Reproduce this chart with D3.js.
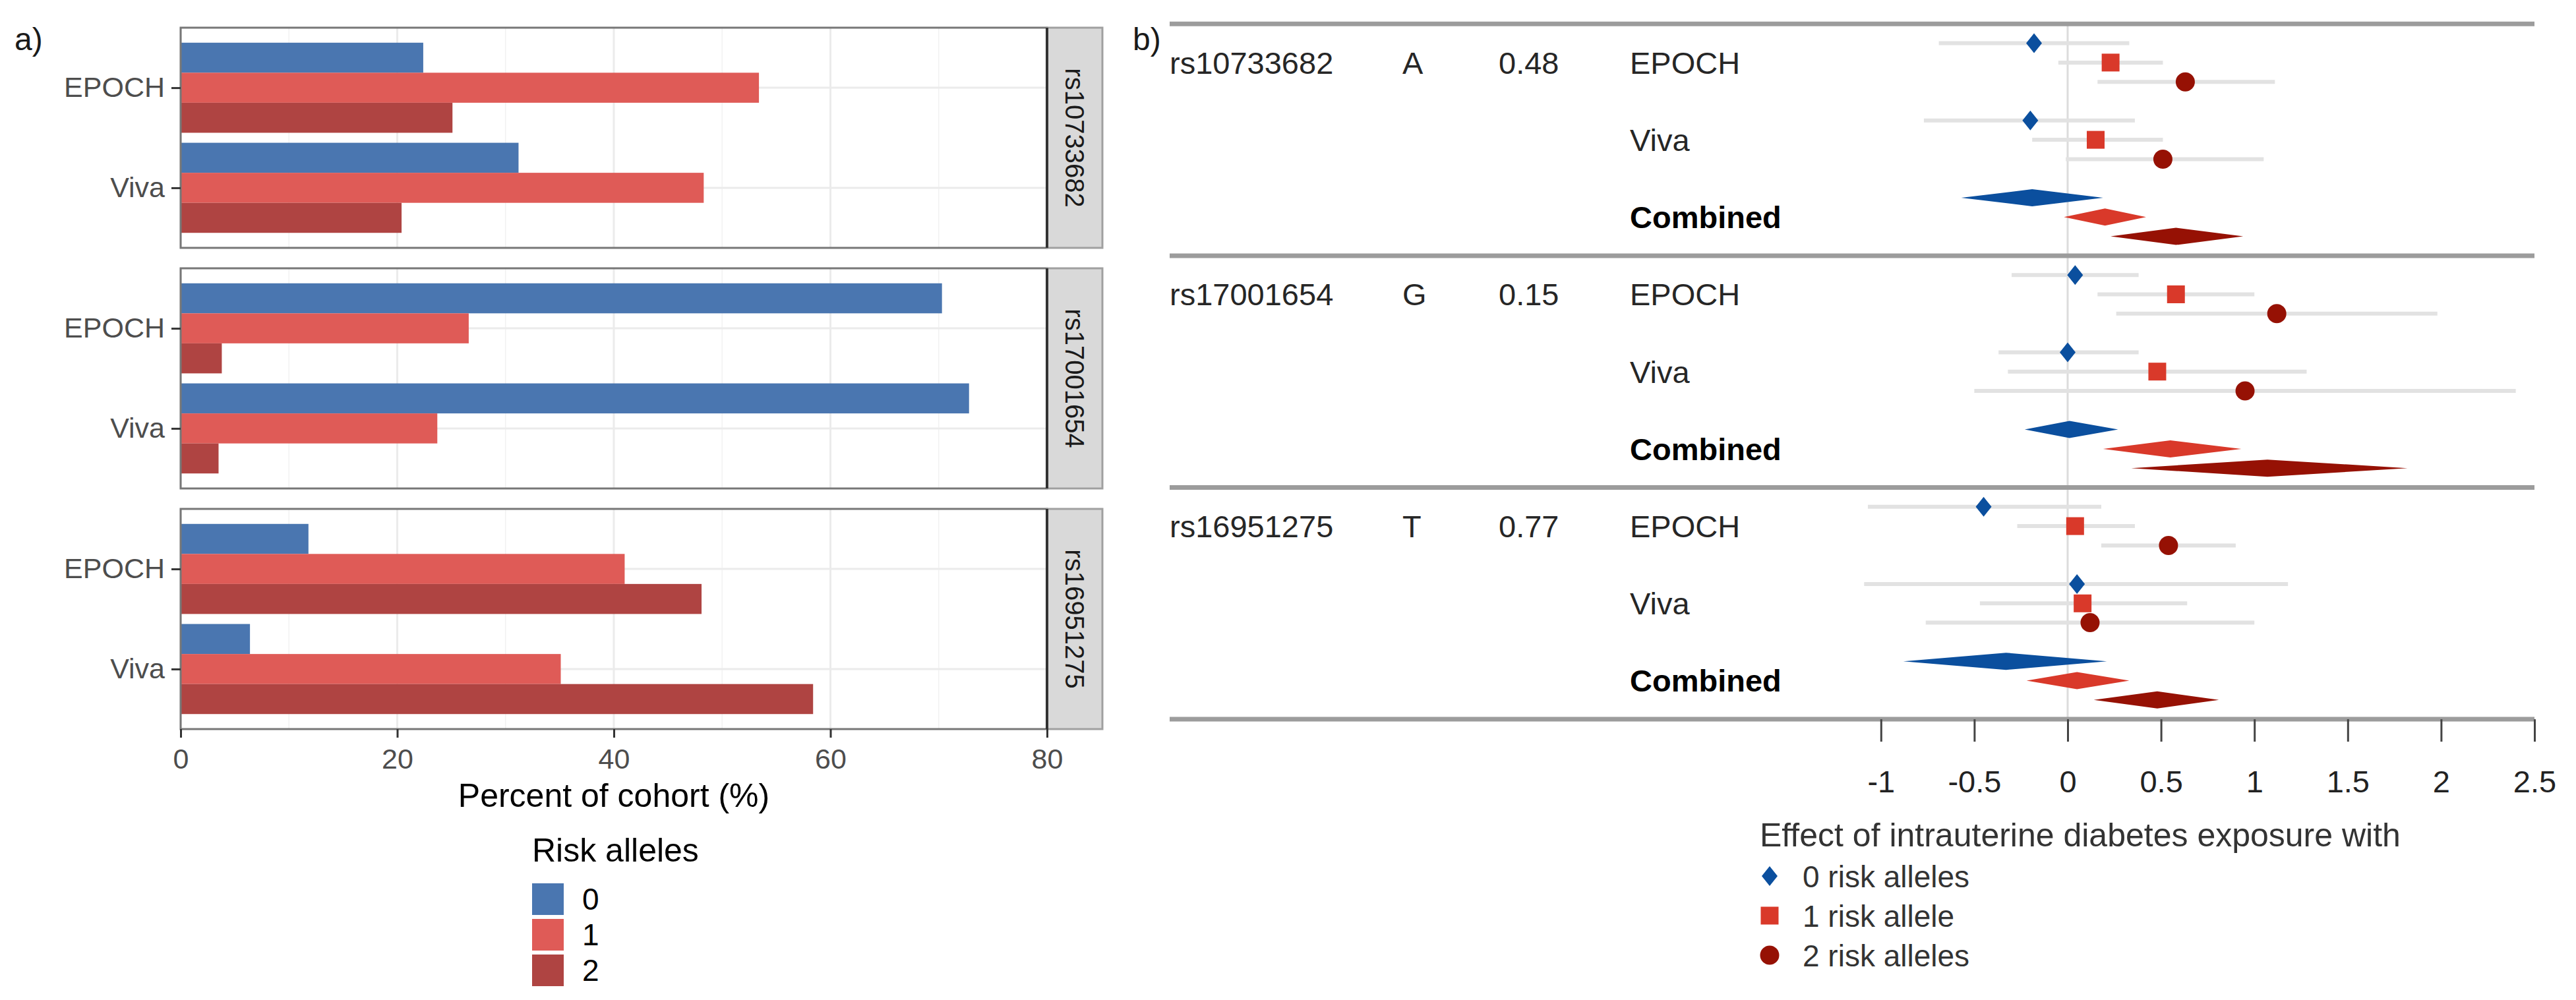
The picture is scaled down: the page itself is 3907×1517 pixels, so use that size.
<!DOCTYPE html>
<html>
<head>
<meta charset="utf-8">
<script src="https://cdn.jsdelivr.net/npm/d3@7"></script>
<style>
    body { margin: 0; background: #fff; }
    text { font-family: "Liberation Sans", Arial, Helvetica, sans-serif; }
</style>
</head>
<body>
<svg id="chart" width="3907" height="1517"></svg>
<script>

// ---- data: panel a (percent of cohort by number of risk alleles) ----
var snps = ['rs10733682', 'rs17001654', 'rs16951275'];
var cohorts = ['EPOCH', 'Viva'];
var alleleLevels = ['0', '1', '2'];
// order: snp1 EPOCH, snp1 Viva, snp2 EPOCH, snp2 Viva, snp3 EPOCH, snp3 Viva
var pctRisk0 = [22.4, 31.2, 70.3, 72.8, 11.8, 6.4];
var pctRisk1 = [53.4, 48.3, 26.6, 23.7, 41.0, 35.1];
var pctRisk2 = [25.1, 20.4, 3.8, 3.5, 48.1, 58.4];
var pctTicks = [0, 20, 40, 60, 80];

// ---- data: panel b (forest plot) ----
var riskAllele = ['A', 'G', 'T'];
var alleleFreq = ['0.48', '0.15', '0.77'];
var forestGroups = ['EPOCH', 'Viva', 'Combined'];
// order: snp x group (EPOCH, Viva, Combined)
var est0 = [-0.18, -0.20, -0.19, 0.04, 0.00, 0.01, -0.45, 0.05, -0.33];
var lo0 = [-0.69, -0.77, -0.57, -0.30, -0.37, -0.23, -1.07, -1.09, -0.88];
var hi0 = [0.33, 0.36, 0.19, 0.38, 0.38, 0.27, 0.18, 1.18, 0.21];
var est1 = [0.23, 0.15, 0.20, 0.58, 0.48, 0.55, 0.04, 0.08, 0.05];
var lo1 = [-0.05, -0.19, -0.02, 0.16, -0.32, 0.19, -0.27, -0.47, -0.22];
var hi1 = [0.51, 0.51, 0.42, 1.00, 1.28, 0.93, 0.36, 0.64, 0.33];
var est2 = [0.63, 0.51, 0.58, 1.12, 0.95, 1.07, 0.54, 0.12, 0.48];
var lo2 = [0.16, -0.01, 0.23, 0.26, -0.50, 0.34, 0.18, -0.76, 0.14];
var hi2 = [1.11, 1.05, 0.94, 1.98, 2.40, 1.82, 0.90, 1.00, 0.81];
var effectTicks = [-1, -0.5, 0, 0.5, 1, 1.5, 2, 2.5];
var forestLegend = ['0 risk alleles', '1 risk allele', '2 risk alleles'];

var svg = d3.select('#chart');
svg.append('rect').attr('width', 3907).attr('height', 1517).attr('fill', '#fff');

drawBarPanel();
drawForestPanel();

// panel a: faceted horizontal dodged bars
function drawBarPanel() {
    var left = 274, right = 1588, top = 42, h = 334, gap = 31, stripW = 84;
    var pct = [pctRisk0, pctRisk1, pctRisk2];

    var x = d3.scaleLinear().domain([0, 80]).range([left, right]);
    var yCohort = d3.scalePoint().domain(cohorts).range([0, h]).padding(0.6);
    var yAllele = d3.scaleBand().domain(alleleLevels)
        .range([-0.45 * yCohort.step(), 0.45 * yCohort.step()]);
    var color = d3.scaleOrdinal().domain(alleleLevels).range(['#4a76b0', '#df5b57', '#af4442']);

    svg.append('text').attr('x', 22).attr('y', 76)
        .attr('font-size', 48).attr('fill', '#1a1a1a').text('a)');

    snps.forEach(function (snp, i) {
        var g = svg.append('g').attr('transform', 'translate(0,' + (top + i * (h + gap)) + ')');

        g.selectAll('.minor').data([10, 30, 50, 70]).enter().append('line')
            .attr('x1', x).attr('x2', x).attr('y1', 0).attr('y2', h)
            .attr('stroke', '#f2f2f2').attr('stroke-width', 1.5);
        g.selectAll('.major').data(pctTicks).enter().append('line')
            .attr('x1', x).attr('x2', x).attr('y1', 0).attr('y2', h)
            .attr('stroke', '#ebebeb').attr('stroke-width', 3);
        g.selectAll('.hmajor').data(cohorts).enter().append('line')
            .attr('x1', left).attr('x2', right)
            .attr('y1', yCohort).attr('y2', yCohort)
            .attr('stroke', '#ebebeb').attr('stroke-width', 3);

        var rows = [];
        cohorts.forEach(function (c, j) {
            alleleLevels.forEach(function (a, k) {
                rows.push({cohort: c, allele: a, v: pct[k][i * 2 + j]});
            });
        });

        g.selectAll('.bar').data(rows).enter().append('rect')
            .attr('x', x(0))
            .attr('y', function (d) { return yCohort(d.cohort) + yAllele(d.allele); })
            .attr('width', function (d) { return x(d.v) - x(0); })
            .attr('height', yAllele.bandwidth())
            .attr('fill', function (d) { return color(d.allele); });

        g.append('rect').attr('x', left).attr('y', 0).attr('width', right - left).attr('height', h)
            .attr('fill', 'none').attr('stroke', '#777').attr('stroke-width', 3);

        // strip
        g.append('rect').attr('x', right).attr('y', 0).attr('width', stripW).attr('height', h)
            .attr('fill', '#d9d9d9').attr('stroke', '#a0a0a0').attr('stroke-width', 3);
        g.append('line').attr('x1', right).attr('x2', right).attr('y1', 0).attr('y2', h)
            .attr('stroke', '#333').attr('stroke-width', 4);
        g.append('text')
            .attr('transform', 'translate(' + (right + stripW / 2) + ',' + (h / 2) + ') rotate(90)')
            .attr('text-anchor', 'middle').attr('dy', '0.35em')
            .attr('font-size', 40).attr('fill', '#1a1a1a').text(snp);

        // y axis
        var yAxis = g.append('g').attr('transform', 'translate(' + left + ',0)')
            .call(d3.axisLeft(yCohort).tickSize(14).tickPadding(10));
        yAxis.select('.domain').remove();
        yAxis.selectAll('line').attr('stroke', '#333').attr('stroke-width', 3);
        yAxis.selectAll('text').attr('font-size', 43).attr('fill', '#4d4d4d')
            .attr('font-family', '"Liberation Sans", Arial, sans-serif');
    });

    var bottom = top + 3 * h + 2 * gap;
    var xAxis = svg.append('g').attr('transform', 'translate(0,' + bottom + ')')
        .call(d3.axisBottom(x).tickValues(pctTicks).tickSize(13).tickPadding(16));
    xAxis.select('.domain').remove();
    xAxis.selectAll('line').attr('stroke', '#333').attr('stroke-width', 3);
    xAxis.selectAll('text').attr('font-size', 43).attr('fill', '#4d4d4d')
        .attr('font-family', '"Liberation Sans", Arial, sans-serif');

    svg.append('text').attr('x', (left + right) / 2).attr('y', 1224)
        .attr('text-anchor', 'middle').attr('font-size', 50).attr('fill', '#000')
        .text('Percent of cohort (%)');

    // legend
    svg.append('text').attr('x', 807).attr('y', 1307)
        .attr('font-size', 50).attr('fill', '#000').text('Risk alleles');
    var leg = svg.selectAll('.legA').data(alleleLevels).enter().append('g')
        .attr('transform', function (d, i) { return 'translate(807,' + (1340 + i * 54) + ')'; });
    leg.append('rect').attr('width', 48).attr('height', 48)
        .attr('fill', function (d) { return color(d); });
    leg.append('text').attr('x', 76).attr('y', 24).attr('dy', '0.35em')
        .attr('font-size', 46).attr('fill', '#000').text(function (d) { return d; });
}

// panel b: forest plot with table columns
function drawForestPanel() {
    var tableLeft = 1774, axisRight = 3844;
    var est = [est0, est1, est2], lo = [lo0, lo1, lo2], hi = [hi0, hi1, hi2];
    var colors = ['#0b4f9e', '#d9392a', '#961104'];

    var x = d3.scaleLinear().domain([0, 2.5]).range([3136, 3844]);
    var yRow = d3.scaleLinear().domain([0, 1]).range([65.6, 94.9]);

    svg.append('text').attr('x', 1718).attr('y', 76)
        .attr('font-size', 48).attr('fill', '#1a1a1a').text('b)');

    // zero line
    svg.append('line').attr('x1', x(0)).attr('x2', x(0))
        .attr('y1', yRow(-1)).attr('y2', yRow(35))
        .attr('stroke', '#dcdcdc').attr('stroke-width', 3);

    var marks = [];
    snps.forEach(function (snp, i) {
        var base = i * 12;
        svg.append('text').attr('x', tableLeft).attr('y', yRow(base + 1)).attr('dy', '0.36em')
            .attr('font-size', 47).attr('fill', '#262626').text(snp);
        svg.append('text').attr('x', 2127).attr('y', yRow(base + 1)).attr('dy', '0.36em')
            .attr('font-size', 47).attr('fill', '#262626').text(riskAllele[i]);
        svg.append('text').attr('x', 2273).attr('y', yRow(base + 1)).attr('dy', '0.36em')
            .attr('font-size', 47).attr('fill', '#262626').text(alleleFreq[i]);

        forestGroups.forEach(function (grp, j) {
            svg.append('text').attr('x', 2472).attr('y', yRow(base + j * 4 + 1)).attr('dy', '0.36em')
                .attr('font-size', 47)
                .attr('font-weight', grp === 'Combined' ? 'bold' : 'normal')
                .attr('fill', grp === 'Combined' ? '#000' : '#262626')
                .text(grp);
            for (var k = 0; k < 3; k++) {
                var idx = i * 3 + j;
                marks.push({
                    row: base + j * 4 + k, allele: k, combined: grp === 'Combined',
                    est: est[k][idx], lo: lo[k][idx], hi: hi[k][idx]
                });
            }
        });
    });

    var cohortMarks = marks.filter(function (d) { return !d.combined; });
    var summaryMarks = marks.filter(function (d) { return d.combined; });

    svg.selectAll('.ci').data(cohortMarks).enter().append('line')
        .attr('x1', function (d) { return x(d.lo); })
        .attr('x2', function (d) { return x(d.hi); })
        .attr('y1', function (d) { return yRow(d.row); })
        .attr('y2', function (d) { return yRow(d.row); })
        .attr('stroke', '#e2e2e2').attr('stroke-width', 6);

    svg.selectAll('.pt').data(cohortMarks).enter().append('path')
        .attr('transform', function (d) { return 'translate(' + x(d.est) + ',' + yRow(d.row) + ')'; })
        .attr('d', function (d) { return markerPath(d.allele); })
        .attr('fill', function (d) { return colors[d.allele]; });

    svg.selectAll('.summary').data(summaryMarks).enter().append('polygon')
        .attr('points', function (d) {
            var y = yRow(d.row);
            return [[x(d.lo), y], [x(d.est), y - 13], [x(d.hi), y], [x(d.est), y + 13]]
                .map(function (p) { return p.join(','); }).join(' ');
        })
        .attr('fill', function (d) { return colors[d.allele]; });

    // block separator lines (the last one doubles as the axis line)
    svg.selectAll('.sep').data([-1, 11, 23, 35]).enter().append('line')
        .attr('x1', tableLeft).attr('x2', axisRight)
        .attr('y1', yRow).attr('y2', yRow)
        .attr('stroke', '#9c9c9c').attr('stroke-width', 7);

    var axis = svg.append('g').attr('transform', 'translate(0,' + yRow(35) + ')')
        .call(d3.axisBottom(x).tickValues(effectTicks).tickSize(34).tickPadding(44)
            .tickFormat(function (d) { return String(d); }));
    axis.select('.domain').remove();
    axis.selectAll('line').attr('stroke', '#444').attr('stroke-width', 3);
    axis.selectAll('text').attr('font-size', 47).attr('fill', '#222')
        .attr('font-family', '"Liberation Sans", Arial, sans-serif');

    // legend
    svg.append('text').attr('x', 2669).attr('y', 1284)
        .attr('font-size', 50).attr('fill', '#333')
        .text('Effect of intrauterine diabetes exposure with');
    var leg = svg.selectAll('.legB').data(forestLegend).enter().append('g')
        .attr('transform', function (d, i) { return 'translate(2684,' + (1329 + i * 60) + ')'; });
    leg.append('path').attr('d', function (d, i) { return markerPath(i); })
        .attr('fill', function (d, i) { return colors[i]; });
    leg.append('text').attr('x', 50).attr('dy', '0.36em')
        .attr('font-size', 46).attr('fill', '#333').text(function (d) { return d; });
}

// diamond for 0, square for 1, circle for 2
function markerPath(k) {
    if (k === 0) return 'M0,-15L12,0L0,15L-12,0Z';
    if (k === 1) return d3.symbol().type(d3.symbolSquare).size(27 * 27)();
    return d3.symbol().type(d3.symbolCircle).size(Math.PI * 14.5 * 14.5)();
}
</script>
</body>
</html>
